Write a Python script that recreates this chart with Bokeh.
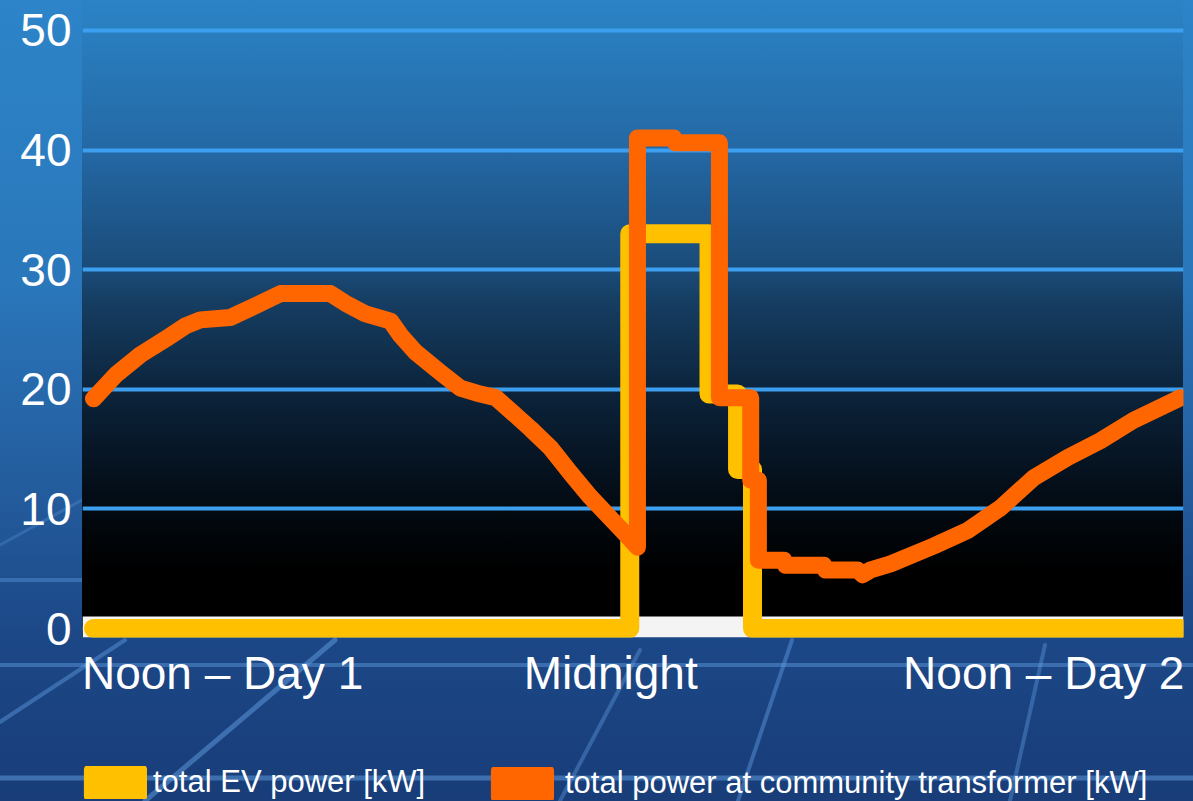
from urllib.parse import quote

from bokeh.plotting import figure
from bokeh.layouts import column
from bokeh.models import Range1d, FixedTicker, BoxAnnotation, Legend, LegendItem
from bokeh.embed import file_html
from bokeh.resources import INLINE

# Hours after noon of day 1, and power in kW
ev_hours = [0.0, 11.84, 11.84, 13.59, 13.59, 14.22, 14.22, 14.55, 14.55, 24.0]
ev_kw = [0.0, 0.0, 33.0, 33.0, 19.6, 19.6, 13.3, 13.3, 0.0, 0.0]

total_hours = [
    0.00, 0.49, 1.04, 1.59, 2.03, 2.36, 3.02, 3.47, 3.91, 4.13,
    5.23, 5.56, 6.01, 6.56, 6.78, 7.11, 7.66, 8.10, 8.54, 8.88,
    9.21, 9.65, 10.09, 10.53, 10.97, 11.42, 11.75, 12.01, 12.01, 12.81,
    12.85, 13.82, 13.82, 14.51, 14.51, 14.68, 14.68, 15.24, 15.28, 16.12,
    16.16, 16.87, 16.98, 17.16, 17.60, 18.55, 19.30, 20.03, 20.76, 21.51,
    22.23, 22.96, 24.00,
]
total_kw = [
    19.2, 21.2, 22.9, 24.2, 25.3, 25.8, 26.0, 26.8, 27.6, 28.0,
    28.0, 27.2, 26.3, 25.7, 24.5, 23.1, 21.4, 20.1, 19.6, 19.3,
    18.2, 16.7, 15.1, 13.0, 11.0, 9.2, 7.9, 6.8, 41.0, 41.0,
    40.6, 40.6, 19.3, 19.3, 12.4, 12.4, 5.7, 5.7, 5.3, 5.3,
    4.9, 4.9, 4.5, 4.9, 5.4, 6.9, 8.2, 10.1, 12.6, 14.3,
    15.7, 17.4, 19.3,
]

y_ticks = [0, 10, 20, 30, 40, 50]
x_tick_hours = [2.85, 11.42, 20.98]
x_tick_labels = ["Noon – Day 1", "Midnight", "Noon – Day 2"]
series_labels = ["total EV power [kW]", "total power at community transformer [kW]"]

EV_COLOR = "#FFC000"
TOTAL_COLOR = "#FF6600"
GRID_COLOR = "#3d9ff0"
FONT = "Liberation Sans"

# Backdrop behind the plot frame: blue fading to black
frame_bg = ("linear-gradient(to bottom, #2b84c6 0px, #2468a5 150px, #1a4b78 270px, "
            "#163e63 300px, #0c243c 390px, #071626 450px, #02080e 520px, #000000 570px, "
            "#000000 637px) 82px 0px / 1101px 637px no-repeat")

# Page backdrop: blue panel with a few soft light streaks
streaks = [
    (0, 665, 1193, 665, 4, 0.40), (0, 778, 1193, 778, 5, 0.45), (0, 580, 82, 580, 4, 0.35),
    (0, 722, 125, 640, 4, 0.40), (145, 801, 335, 640, 5, 0.45), (560, 801, 640, 650, 4, 0.35),
    (738, 801, 792, 640, 4, 0.40), (1010, 801, 1045, 645, 4, 0.35), (0, 545, 82, 500, 3, 0.25),
]
svg = ('<svg xmlns="http://www.w3.org/2000/svg" width="1193" height="801">'
       + "".join(f'<line x1="{a}" y1="{b}" x2="{c}" y2="{d}" stroke="#6aa8ee" '
                 f'stroke-width="{w}" stroke-opacity="{o}" stroke-linecap="round"/>'
                 for a, b, c, d, w, o in streaks)
       + "</svg>")
outer_bg = (f'url("data:image/svg+xml,{quote(svg)}") 0px 0px / 1193px 801px no-repeat, '
            "linear-gradient(to bottom, #2d84c8 0%, #2a77bb 35%, #235b9c 62%, "
            "#1c4786 80%, #183d79 100%)")

chart = figure(
    width=1193, height=740,
    output_backend="svg", toolbar_location=None,
    x_range=Range1d(-0.243, 24.066), y_range=Range1d(-0.75, 52.5),
    min_border_left=82, min_border_right=10, min_border_top=0, min_border_bottom=103,
    background_fill_alpha=0, border_fill_alpha=0, outline_line_alpha=0,
    styles={"background": frame_bg},
)

# light strip along the category axis
chart.add_layout(BoxAnnotation(top=1.0, fill_color="#f4f4f4", fill_alpha=1.0,
                               line_alpha=0, level="underlay"))

chart.xgrid.visible = False
chart.ygrid.ticker = FixedTicker(ticks=y_ticks)
chart.ygrid.grid_line_color = GRID_COLOR
chart.ygrid.grid_line_width = 4

chart.yaxis.ticker = FixedTicker(ticks=y_ticks)
chart.xaxis.ticker = FixedTicker(ticks=x_tick_hours)
chart.xaxis.major_label_overrides = dict(zip(x_tick_hours, x_tick_labels))
for ax in (chart.xaxis[0], chart.yaxis[0]):
    ax.axis_line_alpha = 0
    ax.major_tick_line_alpha = 0
    ax.minor_tick_line_alpha = 0
    ax.major_tick_out = 0
    ax.major_tick_in = 0
    ax.minor_tick_out = 0
    ax.minor_tick_in = 0
    ax.major_label_text_color = "white"
    ax.major_label_text_font = FONT
    ax.major_label_text_font_size = "46px"
chart.yaxis.major_label_standoff = 11
chart.xaxis.major_label_standoff = 9

chart.line(ev_hours, ev_kw, line_color=EV_COLOR, line_width=19,
           line_cap="round", line_join="round")
chart.line(total_hours, total_kw, line_color=TOTAL_COLOR, line_width=17,
           line_cap="round", line_join="round")

# Legend strip under the chart (its frame lines up with the chart frame, 82 px in)
key_fig = figure(
    width=1193, height=61,
    output_backend="svg", toolbar_location=None,
    x_axis_type=None, y_axis_type=None,
    x_range=Range1d(0, 1), y_range=Range1d(0, 1),
    min_border_left=0, min_border_right=0, min_border_top=0, min_border_bottom=0,
    background_fill_alpha=0, border_fill_alpha=0, outline_line_alpha=0,
)
key_fig.grid.visible = False

# legend handles: one off-range box per series, only their swatches are seen
ev_key = key_fig.quad(left=[-3], right=[-2], top=[-2], bottom=[-3], fill_color=EV_COLOR,
                      line_color=EV_COLOR, line_width=12, line_join="round")
total_key = key_fig.quad(left=[-3], right=[-2], top=[-2], bottom=[-3], fill_color=TOTAL_COLOR,
                         line_color=TOTAL_COLOR, line_width=12, line_join="round")


def make_legend(label, renderer, loc, standoff):
    return Legend(
        items=[LegendItem(label=label, renderers=[renderer])],
        location=loc, orientation="horizontal", padding=0, spacing=0, margin=0,
        glyph_width=64, glyph_height=33, label_standoff=standoff,
        label_text_font=FONT, label_text_font_size="31px", label_text_color="white",
        background_fill_alpha=0, border_line_alpha=0,
    )


key_fig.add_layout(make_legend(series_labels[0], ev_key, (1, 1), 6), "center")
key_fig.add_layout(make_legend(series_labels[1], total_key, (408, 0), 11), "center")

p = column(chart, key_fig, spacing=0, styles={"background": outer_bg})

open("out.html", "w").write(file_html(p, INLINE))
